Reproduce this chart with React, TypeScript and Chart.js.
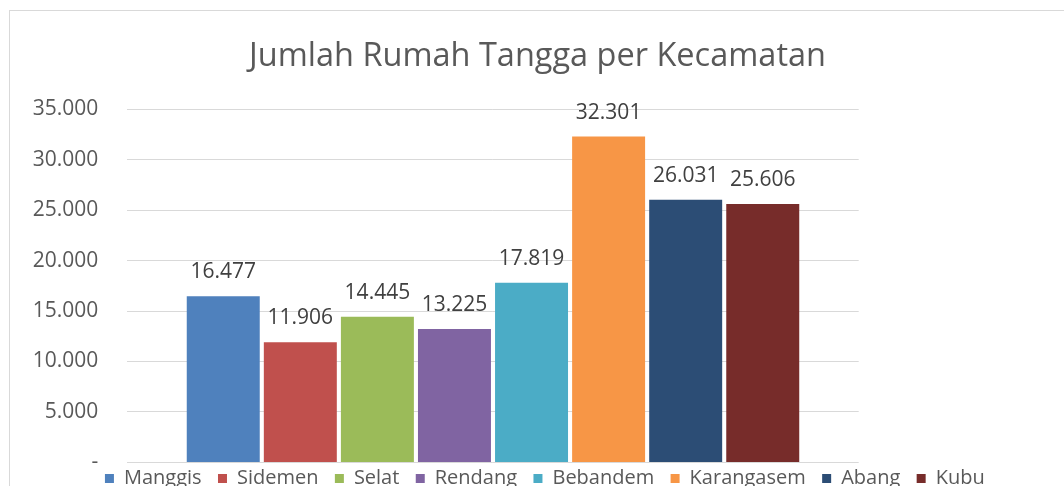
import React, { useEffect, useRef } from "react";
import { Chart, registerables } from "chart.js";

Chart.register(...registerables);

const TITLE = "Jumlah Rumah Tangga per Kecamatan";
const categories = ["Jumlah Rumah Tangga"];
const kecamatan = ["Manggis", "Sidemen", "Selat", "Rendang", "Bebandem", "Karangasem", "Abang", "Kubu"];
const values = [16477, 11906, 14445, 13225, 17819, 32301, 26031, 25606];
const colors = ["#4F81BD", "#C0504D", "#9BBB59", "#8064A2", "#4BACC6", "#F79646", "#2C4D75", "#772C2A"];
const Y_MIN = 0;
const Y_MAX = 35000;
const Y_STEP = 5000;

const FONT = '"Open Sans", "Noto Sans", sans-serif';
const CANVAS_W = 1100;
const CANVAS_H = 504;

const fmt = (v: number) =>
  v === 0 ? "-" : String(Math.round(v)).replace(/\B(?=(\d{3})+(?!\d))/g, ".");

const valueLabels = {
  id: "valueLabels",
  afterDatasetsDraw(chart: any) {
    const ctx = chart.ctx;
    ctx.save();
    ctx.font = `21px ${FONT}`;
    ctx.fillStyle = "#404040";
    ctx.textAlign = "center";
    ctx.textBaseline = "alphabetic";
    chart.data.datasets.forEach((ds: any, i: number) => {
      const meta = chart.getDatasetMeta(i);
      meta.data.forEach((el: any, j: number) => {
        ctx.fillText(fmt(ds.data[j]), el.x, el.y - 18);
      });
    });
    ctx.restore();
  },
};

const titlePlugin = {
  id: "excelTitle",
  afterDraw(chart: any) {
    const ctx = chart.ctx;
    ctx.save();
    ctx.font = `32.5px ${FONT}`;
    ctx.fillStyle = "#595959";
    ctx.textAlign = "center";
    ctx.textBaseline = "alphabetic";
    ctx.fillText(TITLE, 537.5, 65.5);
    ctx.restore();
  },
};

export default function App() {
  const ref = useRef<HTMLCanvasElement | null>(null);

  useEffect(() => {
    if (!ref.current) return;
    const chart = new Chart(ref.current, {
      type: "bar",
      data: {
        labels: categories,
        datasets: kecamatan.map((name, i) => ({
          label: name,
          data: [values[i]],
          backgroundColor: colors[i],
          borderWidth: 0,
          barPercentage: 0.947,
          categoryPercentage: 0.843,
        })),
      },
      options: {
        responsive: false,
        maintainAspectRatio: false,
        animation: false,
        layout: { padding: { left: 0, top: 109.3, right: 0, bottom: 0 } },
        plugins: {
          title: { display: false },
          tooltip: { enabled: false },
          legend: {
            display: true,
            position: "bottom",
            align: "center",
            labels: {
              boxWidth: 9,
              boxHeight: 9,
              padding: 6,
              color: "#595959",
              font: { family: FONT, size: 20 },
              generateLabels: (c: any) =>
                c.data.datasets.map((ds: any, i: number) => ({
                  text: ds.label + "  ",
                  fillStyle: ds.backgroundColor,
                  strokeStyle: ds.backgroundColor,
                  lineWidth: 0,
                  hidden: false,
                  datasetIndex: i,
                  fontColor: "#595959",
                })),
            },
          },
        },
        scales: {
          x: { display: false },
          y: {
            min: Y_MIN,
            max: Y_MAX,
            position: "left",
            ticks: {
              stepSize: Y_STEP,
              padding: 29,
              color: "#595959",
              font: { family: FONT, size: 21 },
              callback: (v: any) => fmt(Number(v)),
            },
            grid: { color: "#d9d9d9", lineWidth: 1, drawTicks: false },
            border: { display: false },
            afterFit: (s: any) => {
              s.width = 127.3;
            },
          },
          yR: {
            type: "linear",
            position: "right",
            display: true,
            grid: { display: false, drawTicks: false },
            border: { display: false },
            ticks: { display: false },
            afterFit: (s: any) => {
              s.width = CANVAS_W - 858.7;
            },
          },
        },
      } as any,
      plugins: [valueLabels, titlePlugin],
    });
    return () => chart.destroy();
  }, []);

  return (
    <div
      style={{
        position: "fixed",
        left: 0,
        top: 0,
        width: 1064,
        height: 486,
        overflow: "hidden",
        background: "#ffffff",
      }}
    >
      <div
        style={{
          position: "absolute",
          left: 9,
          top: 10,
          width: 1200,
          height: 1000,
          border: "1px solid #d9d9d9",
          boxSizing: "border-box",
        }}
      />
      <canvas
        ref={ref}
        width={CANVAS_W}
        height={CANVAS_H}
        style={{ position: "absolute", left: 0, top: 0, width: CANVAS_W, height: CANVAS_H }}
      />
    </div>
  );
}
